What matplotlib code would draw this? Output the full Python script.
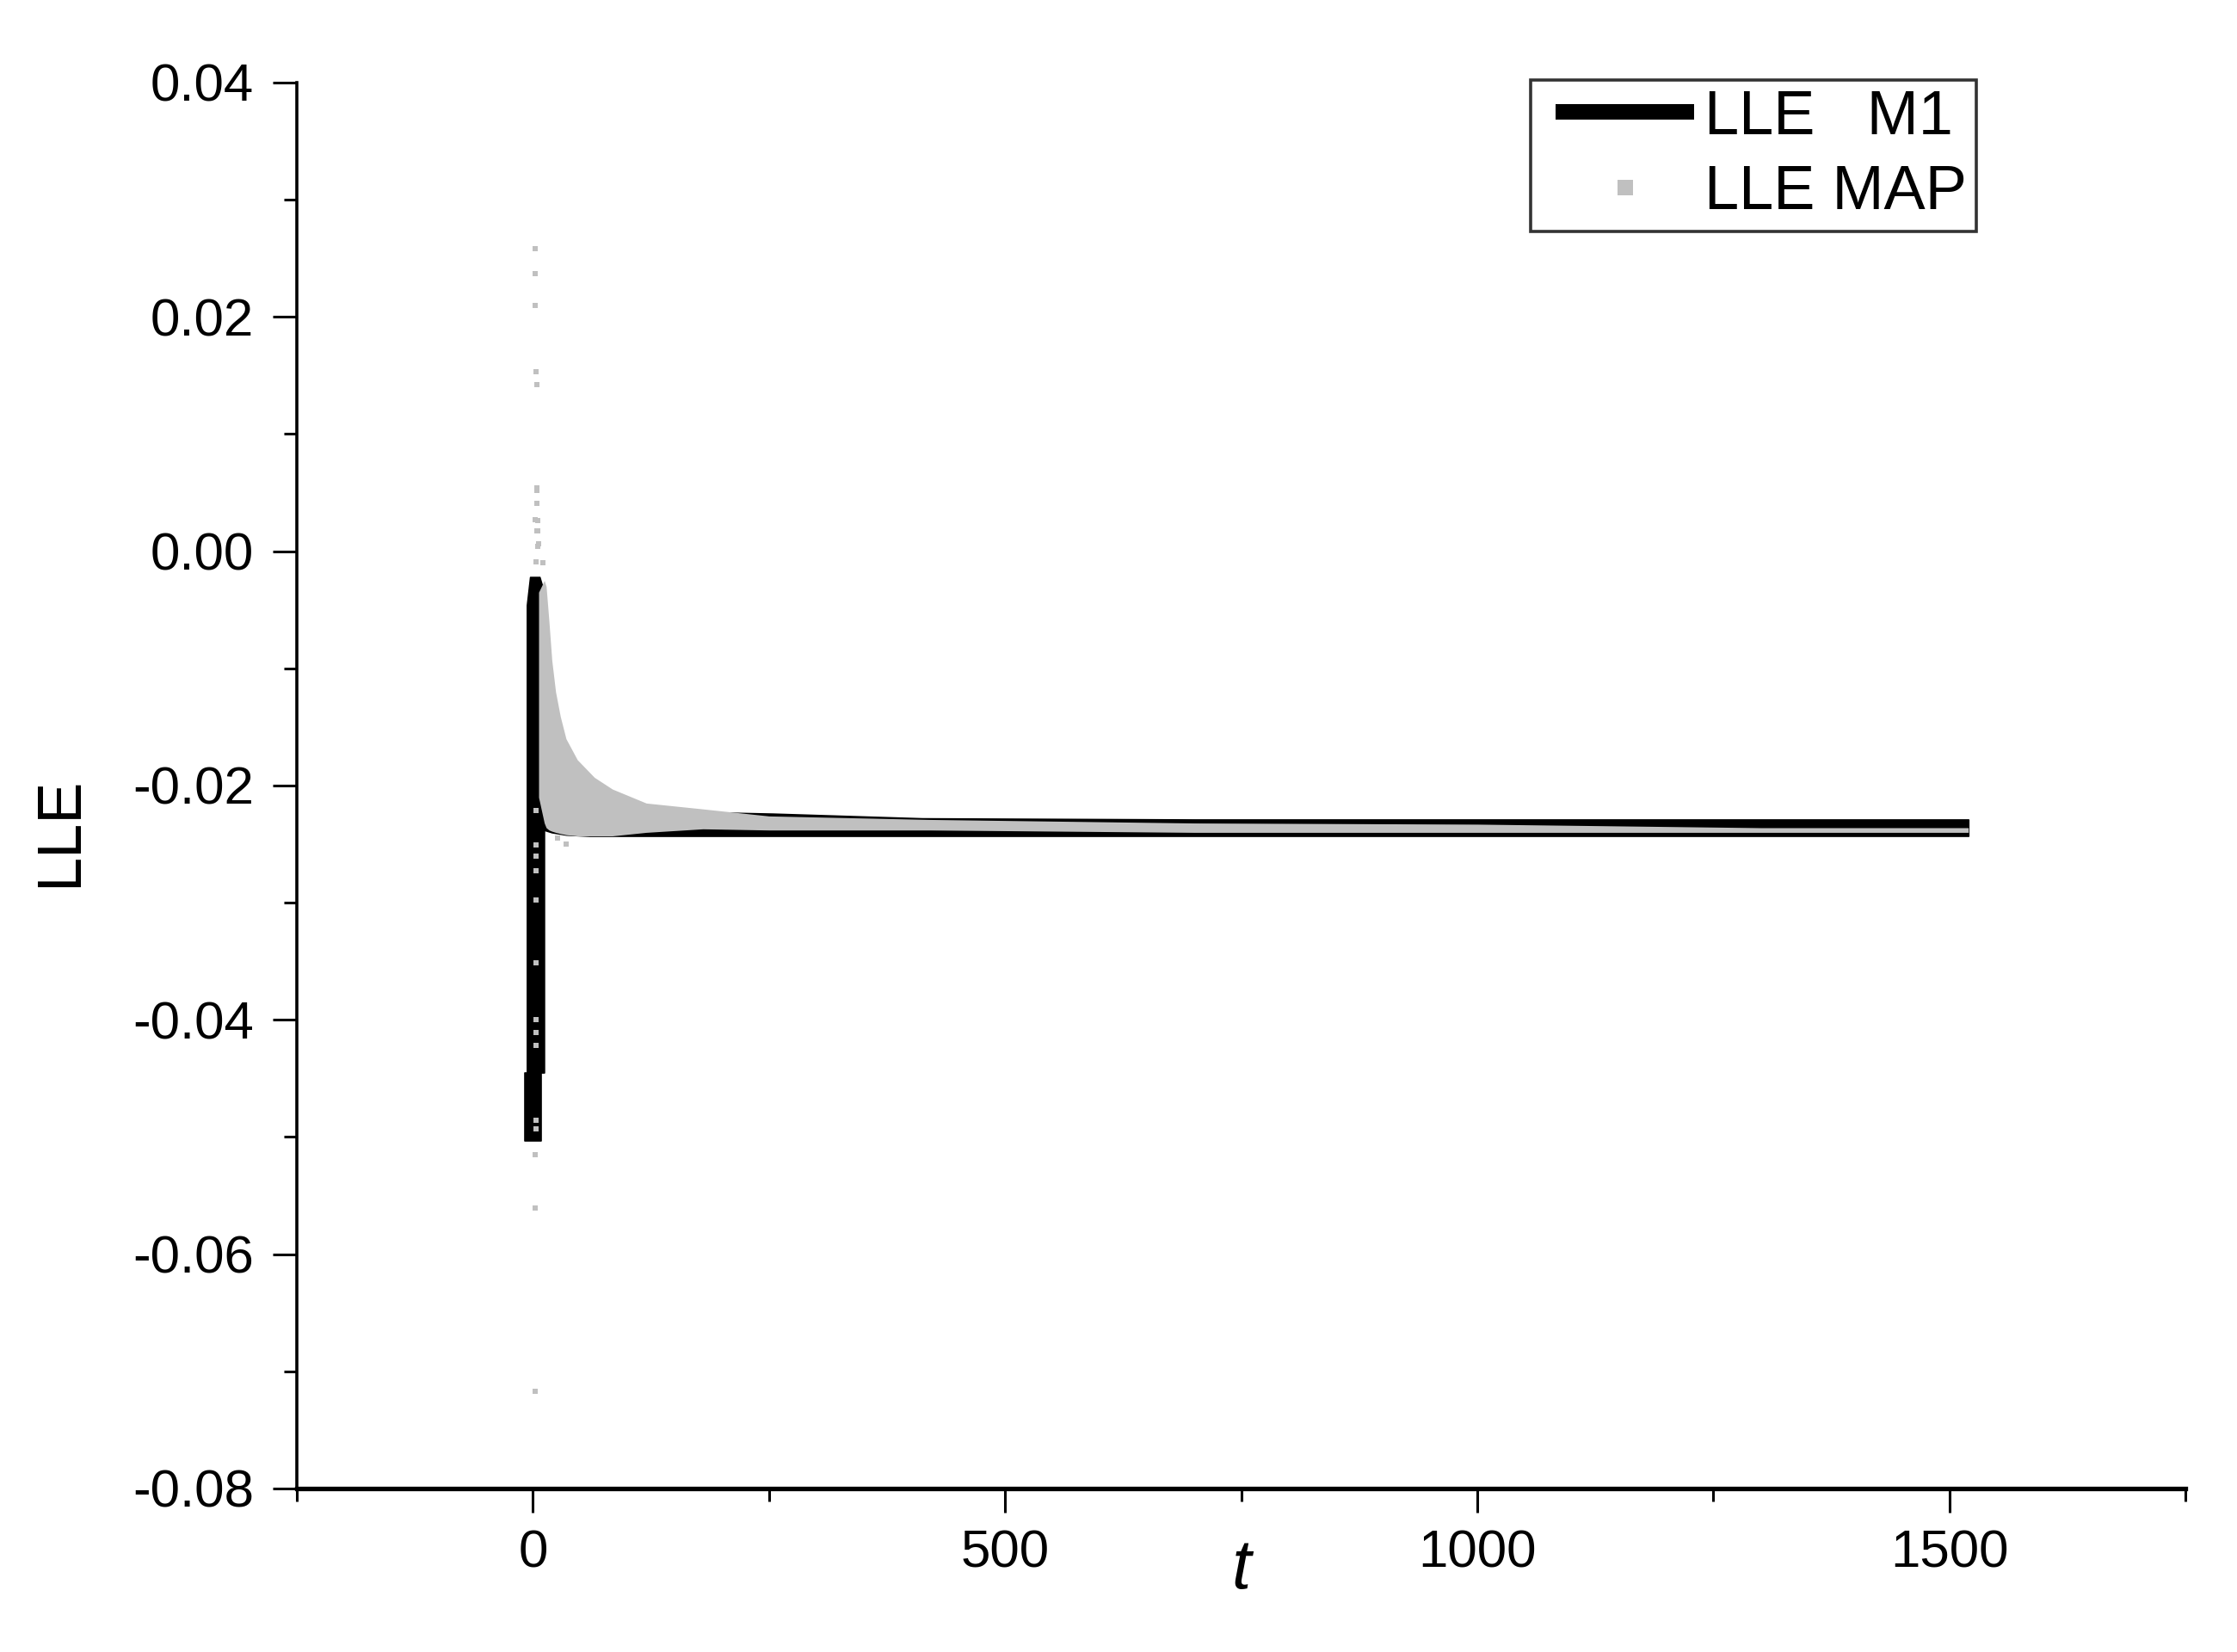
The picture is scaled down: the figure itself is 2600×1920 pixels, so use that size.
import matplotlib
matplotlib.use("Agg")
import matplotlib.pyplot as plt
from matplotlib.lines import Line2D
from matplotlib.legend_handler import HandlerLine2D
from matplotlib.ticker import MultipleLocator, FormatStrFormatter

plt.rcParams['font.family'] = ['Liberation Sans', 'DejaVu Sans']
plt.rcParams['axes.unicode_minus'] = False

# ---------------- data ----------------
# LLE M1 : initial vertical burst near t = 0 (two stacked blocks)
m1_col_t = [-6.4, -3.0, 7.0, 11.8]
m1_col_top = [-0.0046, -0.0022, -0.0022, -0.0035]
m1_col_bot = [-0.0445, -0.0445, -0.0445, -0.0445]
m1_col2_t = [-9.0, 9.0]
m1_col2_top = [-0.0445, -0.0445]
m1_col2_bot = [-0.0503, -0.0503]

# LLE M1 : oscillation envelope after the burst
m1_t = [12, 20, 35, 60, 100, 137, 254, 412, 700, 1000, 1300, 1520]
m1_hi = [-0.0190, -0.0195, -0.0205, -0.0215, -0.0220, -0.0222, -0.0224,
         -0.0228, -0.0229, -0.0229, -0.0229, -0.0229]
m1_lo = [-0.0238, -0.0240, -0.0242, -0.0243, -0.0243, -0.0243, -0.0243,
         -0.0243, -0.0243, -0.0243, -0.0243, -0.0243]

# LLE MAP : envelope of the dense point cloud
map_t = [6, 12, 14, 17, 20, 24, 29, 35, 47, 65, 84, 120, 180, 250, 420,
         700, 1000, 1300, 1520]
map_hi = [-0.0035, -0.0025, -0.0030, -0.0060, -0.0093, -0.0120, -0.0141,
          -0.0160, -0.0178, -0.0193, -0.0203, -0.0215, -0.0220, -0.0226,
          -0.0229, -0.0232, -0.0233, -0.0236, -0.0236]
map_lo = [-0.0210, -0.0232, -0.0236, -0.0238, -0.0239, -0.0240, -0.0241,
          -0.0242, -0.0243, -0.0243, -0.0243, -0.0240, -0.0237, -0.0238,
          -0.0238, -0.0240, -0.0240, -0.0240, -0.0240]

# LLE MAP : isolated points near the start
map_pts_t = [2, 2, 2, 3, 4, 4, 4, 5, 5, 5, 2, 4, 6, 3, 11, 4,
             3, 3, 3, 3, 3, 3, 3, 3, 3, 3, 3,
             2, 2, 2, 26, 35]
map_pts_v = [0.0258, 0.0237, 0.0210, 0.0153, 0.0142, 0.0052, 0.0041,
             0.0026, 0.0017, 0.0004, 0.0027, 0.0017, 0.0006, -0.0009,
             -0.0010, 0.0054,
             -0.0221, -0.0251, -0.0260, -0.0273, -0.0298, -0.0351,
             -0.0400, -0.0411, -0.0422, -0.0486, -0.0493,
             -0.0515, -0.0561, -0.0717, -0.0245, -0.0250]

x_major = [0, 500, 1000, 1500]
y_major = [0.04, 0.02, 0.00, -0.02, -0.04, -0.06, -0.08]

series_labels = ['LLE   M1', 'LLE MAP']
m1_color = 'black'
map_color = '#c0c0c0'

# ---------------- figure ----------------
fig = plt.figure(figsize=(13, 9.6), dpi=200)
ax = fig.add_axes([0.1327, 0.099, 0.8443, 0.851])

# M1 (black)
ax.fill_between(m1_col_t, m1_col_bot, m1_col_top, color=m1_color, lw=0.6,
                edgecolor=m1_color, zorder=2)
ax.fill_between(m1_col2_t, m1_col2_bot, m1_col2_top, color=m1_color, lw=0.6,
                edgecolor=m1_color, zorder=2)
ax.fill_between(m1_t, m1_lo, m1_hi, color=m1_color, lw=0.6,
                edgecolor=m1_color, zorder=2)

# MAP (grey) on top
ax.fill_between(map_t, map_lo, map_hi, color=map_color, lw=0,
                zorder=3)
ax.plot(map_pts_t, map_pts_v, ls='none', marker='s', ms=2.4, mew=0,
        color=map_color, zorder=4)

# axes styling
ax.set_xlim(-250, 1750)
ax.set_ylim(-0.08, 0.04)
ax.spines['top'].set_visible(False)
ax.spines['right'].set_visible(False)
ax.spines['left'].set_linewidth(1.3)
ax.spines['bottom'].set_linewidth(1.9)

ax.xaxis.set_major_locator(plt.FixedLocator(x_major))
ax.xaxis.set_minor_locator(MultipleLocator(250))
ax.yaxis.set_major_locator(plt.FixedLocator(y_major))
ax.yaxis.set_minor_locator(MultipleLocator(0.01))
ax.yaxis.set_major_formatter(FormatStrFormatter('%.2f'))
ax.xaxis.set_major_formatter(FormatStrFormatter('%d'))

ax.tick_params(axis='both', which='major', direction='out', length=10,
               width=1.1, labelsize=22.3)
ax.tick_params(axis='both', which='minor', direction='out', length=5.4,
               width=1.1)
ax.tick_params(axis='x', which='major', pad=7)
ax.tick_params(axis='y', which='major', pad=8)

ax.set_xlabel('t', fontsize=29, style='italic')
ax.xaxis.set_label_coords(0.5, -0.058)
ax.xaxis.label.set_verticalalignment('center')

ax.set_ylabel('LLE', fontsize=26)
ax.yaxis.set_label_coords(-0.125, 0.467)
ax.yaxis.label.set_verticalalignment('center')

handles = [Line2D([], [], color=m1_color, lw=6.5, solid_capstyle='butt'),
           Line2D([], [], color=map_color, ls='none', marker='s', ms=6.5,
                  mew=0)]
hmap = {h: HandlerLine2D(xpad=0.26) for h in handles}
leg = ax.legend(handles, series_labels, loc='upper right',
                bbox_to_anchor=(0.889, 1.002), borderaxespad=0,
                fontsize=26, frameon=True, fancybox=False, shadow=False,
                handlelength=2.49, handletextpad=0.16, borderpad=0.15,
                labelspacing=0.28, handler_map=hmap)
leg.get_frame().set_edgecolor('black')
leg.get_frame().set_linewidth(1.3)

fig.savefig('out.png', dpi=200, facecolor='white')
